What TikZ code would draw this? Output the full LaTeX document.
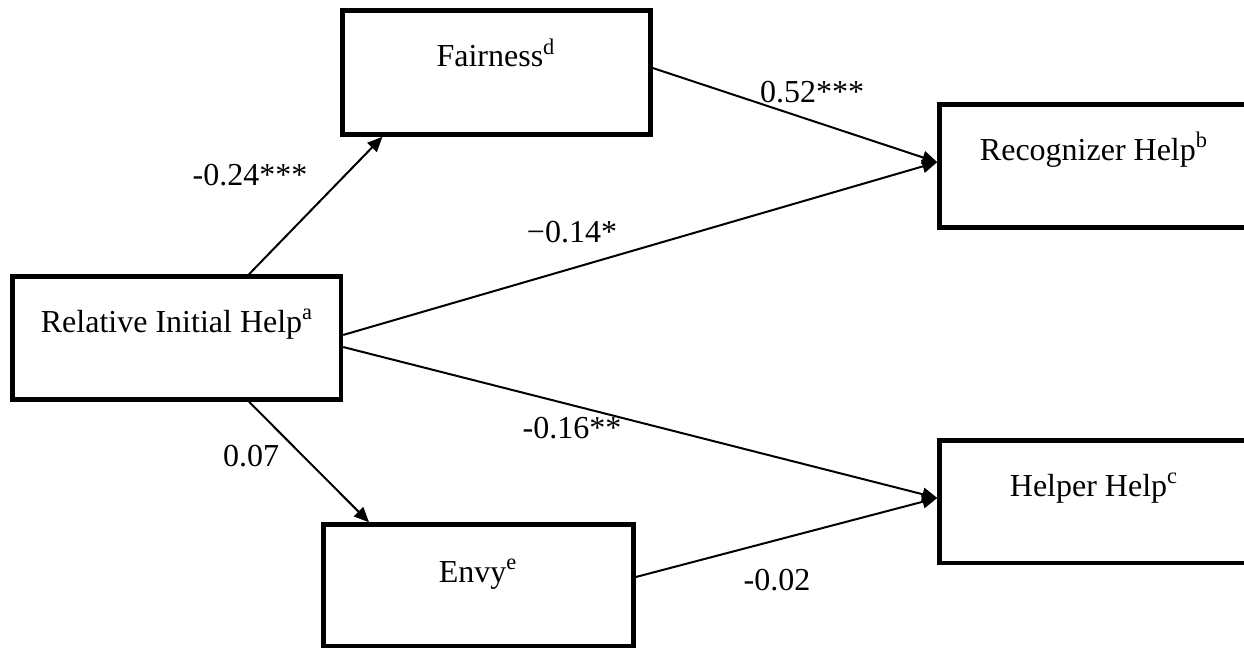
\documentclass[tikz,border=0pt]{standalone}
\usepackage{fontspec}
\setmainfont{Liberation Serif}
\usetikzlibrary{arrows.meta,calc}
\begin{document}
\begin{tikzpicture}[x=0.5pt,y=-0.5pt,
  box/.style={draw, line width=2.25pt, rectangle, inner sep=0pt},
  txt/.style={anchor=base, inner sep=0pt, font=\fontsize{16}{19}\selectfont},
  conn/.style={line width=1pt, -{Triangle[length=7.5pt,width=6.5pt]}}]
\useasboundingbox (0,0) rectangle (1244,648);
\fill[white] (0,0) rectangle (1244,648);
\clip (0,0) rectangle (1244,648);
% boxes
\node[box, minimum width=164.25pt, minimum height=61.5pt] (rel) at (176.75,338) {};
\node[box, minimum width=154pt, minimum height=62pt] (fair) at (496.5,72.5) {};
\node[box, minimum width=155.25pt, minimum height=61.5pt] (rec) at (1094.75,166) {};
\node[box, minimum width=155.25pt, minimum height=61.25pt] (help) at (1094.75,501.75) {};
\node[box, minimum width=155pt, minimum height=61pt] (envy) at (478.5,585.5) {};
% box texts
\node[txt] (reltxt) at (177,332) {Relative Initial Help\textsuperscript{a}};
\node[txt] (fairtxt) at (496,67) {Fairness\textsuperscript{d}};
\node[txt] (rectxt) at (1094,160) {Recognizer Help\textsuperscript{b}};
\node[txt] (helptxt) at (1094,496) {Helper Help\textsuperscript{c}};
\node[txt] (envytxt) at (478,582) {Envy\textsuperscript{e}};
% connectors
\draw[conn] ($(rel.north west)!0.717!(rel.north east)$) -- ($(fair.south west)!0.135!(fair.south east)$);
\draw[conn] ($(fair.north east)!0.465!(fair.south east)$) -- ($(rec.north west)!0.47!(rec.south west)$);
\draw[conn] ($(rel.north east)!0.476!(rel.south east)$) -- ($(rec.north west)!0.47!(rec.south west)$);
\draw[conn] ($(rel.north east)!0.571!(rel.south east)$) -- ($(help.north west)!0.47!(help.south west)$);
\draw[conn] ($(rel.south west)!0.717!(rel.south east)$) -- ($(envy.north west)!0.152!(envy.north east)$);
\draw[conn] ($(envy.north east)!0.433!(envy.south east)$) -- ($(help.north west)!0.47!(help.south west)$);
% labels
\node[txt] (l1) at (250,185) {-0.24***};
\node[txt] (l2) at (812,102) {0.52***};
\node[txt] (l3) at (572,242) {−0.14*};
\node[txt] (l4) at (572,438) {-0.16**};
\node[txt] (l5) at (251,466) {0.07};
\node[txt] (l6) at (777,590) {-0.02};
\end{tikzpicture}
\end{document}
